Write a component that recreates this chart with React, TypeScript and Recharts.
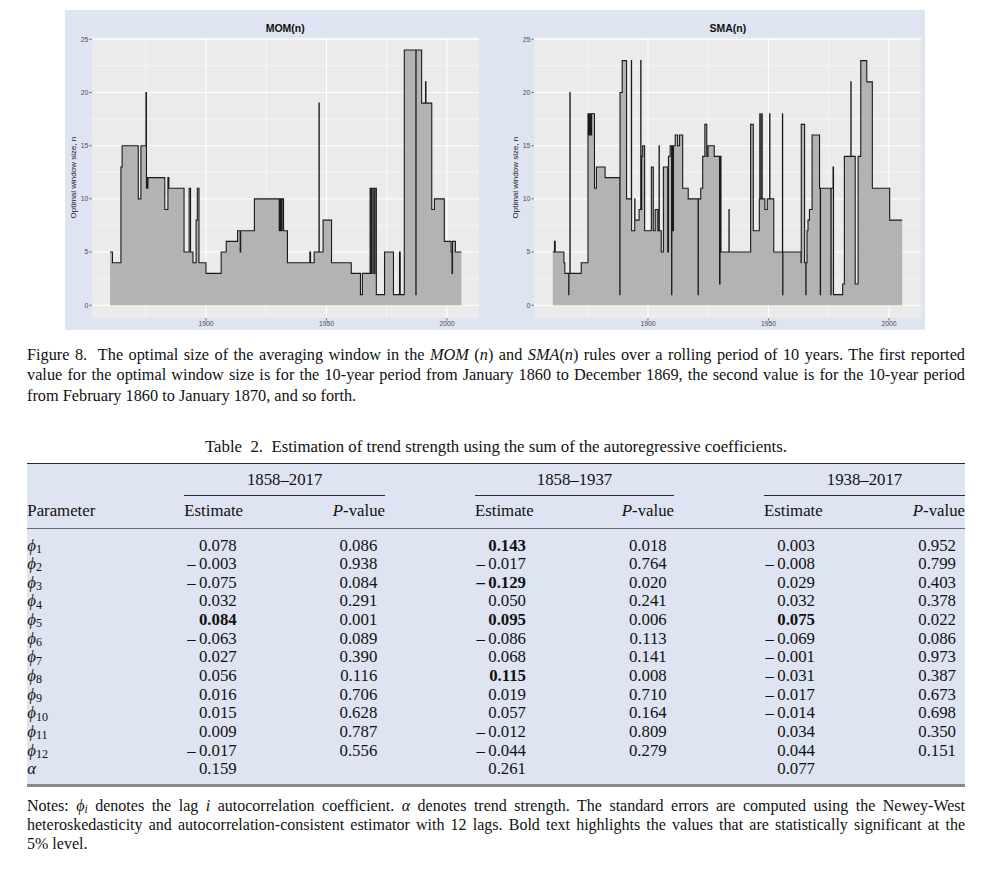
import React from 'react';
import { ComposedChart, Area, XAxis, YAxis, CartesianGrid } from 'recharts';

// ---------- chart data (year of window start, optimal window size n) ----------
const momYears = [1860.2, 1861.2, 1864.7, 1865.2, 1871.9, 1873.0, 1875.1, 1875.3, 1875.6, 1875.7, 1875.9, 1882.9, 1884.2, 1884.6, 1890.9, 1893.0, 1893.6, 1894.6, 1895.9, 1896.4, 1897.1, 1900.0, 1906.3, 1908.4, 1913.1, 1914.2, 1914.4, 1920.1, 1930.4, 1930.8, 1931.2, 1931.6, 1932.2, 1933.8, 1943.1, 1943.4, 1944.9, 1946.9, 1947.0, 1948.6, 1952.1, 1960.3, 1964.1, 1964.9, 1968.1, 1968.6, 1968.7, 1969.3, 1969.4, 1970.0, 1970.1, 1970.7, 1974.1, 1977.8, 1980.3, 1980.6, 1982.3, 1987.1, 1987.2, 1989.5, 1991.1, 1991.3, 1993.7, 1994.8, 1998.9, 2001.7, 2002.1, 2002.3, 2003.5, 2006.0];
const momValues = [5, 4, 13, 15, 10, 15, 20, 11, 12, 11, 12, 9, 12, 11, 5, 11, 5, 4, 8, 11, 4, 3, 5, 6, 7, 5, 7, 10, 7, 10, 7, 10, 7, 4, 5, 4, 5, 19, 5, 8, 4, 3, 1, 3, 11, 3, 11, 3, 11, 3, 11, 1, 5, 1, 5, 1, 24, 1, 24, 19, 21, 19, 9, 10, 6, 5, 3, 6, 5, 5];

const smaYears = [1860.5, 1861.2, 1861.5, 1865.1, 1865.5, 1867.1, 1867.2, 1867.6, 1867.7, 1872.3, 1875.1, 1875.4, 1875.6, 1875.9, 1876.1, 1876.4, 1876.6, 1877.8, 1878.6, 1882.2, 1888.3, 1888.4, 1889.3, 1891.1, 1893.1, 1893.2, 1894.5, 1894.6, 1896.3, 1897.0, 1897.1, 1897.4, 1897.8, 1898.6, 1901.4, 1902.2, 1903.0, 1904.1, 1904.6, 1904.7, 1905.5, 1906.4, 1908.2, 1908.5, 1909.2, 1909.8, 1909.9, 1910.2, 1910.6, 1911.3, 1912.3, 1913.1, 1914.4, 1916.7, 1920.8, 1920.9, 1921.9, 1922.7, 1923.6, 1924.4, 1924.9, 1927.5, 1929.7, 1929.9, 1930.3, 1933.6, 1933.7, 1942.6, 1943.7, 1946.2, 1946.4, 1946.6, 1947.2, 1947.4, 1948.5, 1949.5, 1950.5, 1950.6, 1952.2, 1955.8, 1955.9, 1956.0, 1963.5, 1963.6, 1965.0, 1965.5, 1965.6, 1966.0, 1966.4, 1967.0, 1968.1, 1971.2, 1971.5, 1971.6, 1975.9, 1976.0, 1976.8, 1977.0, 1980.8, 1981.5, 1984.2, 1984.3, 1986.0, 1987.2, 1988.3, 1990.8, 1993.1, 2000.3, 2005.5];
const smaValues = [5, 6, 5, 4, 3, 1, 3, 20, 3, 4, 18, 16, 18, 16, 18, 16, 18, 11, 13, 12, 1, 20, 23, 10, 23, 7, 10, 8, 9, 23, 9, 14, 15, 7, 13, 7, 9, 7, 15, 7, 5, 13, 5, 14, 15, 1, 15, 7, 15, 16, 15, 16, 11, 10, 1, 10, 11, 14, 17, 14, 15, 14, 2, 14, 5, 9, 5, 17, 7, 10, 18, 10, 18, 10, 9, 10, 18, 10, 5, 18, 1, 5, 4, 17, 4, 1, 4, 7, 8, 9, 16, 11, 1, 11, 1, 11, 13, 1, 2, 14, 21, 14, 2, 14, 23, 21, 11, 8, 8];

const chartTitles = ['MOM(n)', 'SMA(n)'];
const yAxisTitle = 'Optimal window size, n';
const xTicks = [1900, 1950, 2000];
const xMinor = [1875, 1925, 1975];
const yTicks = [0, 5, 10, 15, 20, 25];
const yMinor = [2.5, 7.5, 12.5, 17.5, 22.5];
const xDomain = [1852.7, 2013.3];
const yDomain = [-1.2, 25.2];

// ---------- table data ----------
const paramSubs = ['1', '2', '3', '4', '5', '6', '7', '8', '9', '10', '11', '12', 'alpha'];
const periods = ['1858–2017', '1858–1937', '1938–2017'];
const est1858_2017 = [0.078, -0.003, -0.075, 0.032, 0.084, -0.063, 0.027, 0.056, 0.016, 0.015, 0.009, -0.017, 0.159];
const pval1858_2017 = [0.086, 0.938, 0.084, 0.291, 0.001, 0.089, 0.39, 0.116, 0.706, 0.628, 0.787, 0.556, null];
const sig1858_2017 = [false, false, false, false, true, false, false, false, false, false, false, false, false];
const est1858_1937 = [0.143, -0.017, -0.129, 0.05, 0.095, -0.086, 0.068, 0.115, 0.019, 0.057, -0.012, -0.044, 0.261];
const pval1858_1937 = [0.018, 0.764, 0.02, 0.241, 0.006, 0.113, 0.141, 0.008, 0.71, 0.164, 0.809, 0.279, null];
const sig1858_1937 = [true, false, true, false, true, false, false, true, false, false, false, false, false];
const est1938_2017 = [0.003, -0.008, 0.029, 0.032, 0.075, -0.069, -0.001, -0.031, -0.017, -0.014, 0.034, 0.044, 0.077];
const pval1938_2017 = [0.952, 0.799, 0.403, 0.378, 0.022, 0.086, 0.973, 0.387, 0.673, 0.698, 0.35, 0.151, null];
const sig1938_2017 = [false, false, false, false, true, false, false, false, false, false, false, false, false];

const BLUE = '#dee4f2';
const SERIF = '"Liberation Serif", "Times New Roman", serif';
const SANS = '"Liberation Sans", Arial, sans-serif';

const toRows = (xs: number[], vs: number[]) => xs.map((x, i) => ({ year: x, n: vs[i] }));

function StepPanel({ xs, vs, title, left }: { xs: number[]; vs: number[]; title: string; left: number }) {
  const data = toRows(xs, vs);
  return (
    <div style={{ position: 'absolute', left, top: 10, width: 420, height: 320 }}>
      <div style={{ position: 'absolute', left: 27, width: 387, top: 13, textAlign: 'center', fontFamily: SANS, fontWeight: 700, fontSize: 10.5, lineHeight: '11px', color: '#111' }}>{title}</div>
      <ComposedChart width={420} height={320} data={data} margin={{ top: 27.2, right: 6, bottom: 0, left: 0 }}>
        <CartesianGrid fill="#ebebeb" fillOpacity={1} stroke="#ffffff" strokeWidth={1.1} horizontalValues={yTicks} verticalValues={xTicks} />
        <CartesianGrid stroke="#ffffff" strokeWidth={0.5} horizontalValues={yMinor} verticalValues={xMinor} />
        <XAxis dataKey="year" type="number" domain={xDomain} ticks={xTicks} allowDataOverflow axisLine={false}
          tickSize={2.7} tickMargin={0.5} height={12}
          tick={{ fontSize: 6.8, fill: '#4d4d4d', fontFamily: SANS }} tickLine={{ stroke: '#333', strokeWidth: 0.6 }} />
        <YAxis type="number" domain={yDomain} ticks={yTicks} allowDataOverflow axisLine={false} width={27}
          tickSize={2.7} tickMargin={1}
          tick={{ fontSize: 6.8, fill: '#4d4d4d', fontFamily: SANS }} tickLine={{ stroke: '#333', strokeWidth: 0.6 }}
          label={{ value: yAxisTitle, angle: -90, position: 'insideLeft', offset: 8, style: { textAnchor: 'middle', fontSize: 8, fill: '#1a1a1a', fontFamily: SANS } }} />
        <Area type="stepAfter" dataKey="n" baseValue={0} stroke="#1a1a1a" strokeWidth={1.1} fill="#b3b3b6" fillOpacity={1}
          isAnimationActive={false} dot={false} activeDot={false} />
      </ComposedChart>
    </div>
  );
}

const fmt = (v: number) => (v < 0 ? '\u2013\u2009' + Math.abs(v).toFixed(3) : v.toFixed(3));

function Cell({ right, cy, text, bold }: { right: number; cy: number; text: string; bold?: boolean }) {
  return (
    <div style={{ position: 'absolute', left: right - 120, width: 120, top: cy - 10, height: 20, lineHeight: '20px', textAlign: 'right', fontWeight: bold ? 700 : 400, whiteSpace: 'nowrap' }}>{text}</div>
  );
}

const TS = 16.8;

export default function App() {
  const estCols = [est1858_2017, est1858_1937, est1938_2017];
  const pCols = [pval1858_2017, pval1858_1937, pval1938_2017];
  const sigCols = [sig1858_2017, sig1858_1937, sig1938_2017];
  const estRight = [236.7, 526, 815];
  const pRight = [377.3, 666.7, 956];
  const groupLeft = [184.3, 475, 764];
  const groupRight = [385, 674, 965];
  const rowY = (i: number) => 545.5 + i * 18.65;
  const lineStyle = (last: boolean, h: number): React.CSSProperties => ({ whiteSpace: 'nowrap', height: h, textAlign: last ? 'left' : 'justify', textAlignLast: last ? 'left' : 'justify' } as React.CSSProperties);

  return (
    <div style={{ position: 'absolute', left: 0, top: 0, width: 996, height: 870, background: '#fff', fontFamily: SERIF, color: '#111', overflow: 'hidden' }}>
      {/* chart background */}
      <div style={{ position: 'absolute', left: 65, top: 10, width: 860, height: 320, background: BLUE }} />
      <StepPanel xs={momYears} vs={momValues} title={chartTitles[0]} left={64.7} />
      <StepPanel xs={smaYears} vs={smaValues} title={chartTitles[1]} left={507.3} />

      {/* figure caption */}
      <div style={{ position: 'absolute', left: 27, top: 344.7, width: 938, fontSize: 16.3, lineHeight: '20.5px' }}>
        <div style={lineStyle(false, 20.5)}>Figure 8.&nbsp; The optimal size of the averaging window in the <i>MOM</i> (<i>n</i>) and <i>SMA</i>(<i>n</i>) rules over a rolling period of 10 years. The first reported</div>
        <div style={lineStyle(false, 20.5)}>value for the optimal window size is for the 10-year period from January 1860 to December 1869, the second value is for the 10-year period</div>
        <div style={lineStyle(true, 20.5)}>from February 1860 to January 1870, and so forth.</div>
      </div>

      {/* table title */}
      <div style={{ position: 'absolute', left: 0, width: 992, top: 437, textAlign: 'center', fontSize: TS, lineHeight: '20px', whiteSpace: 'nowrap' }}>
        Table&nbsp; 2.&nbsp; Estimation of trend strength using the sum of the autoregressive coefficients.
      </div>

      {/* table body */}
      <div style={{ position: 'absolute', left: 27, top: 463, width: 938, height: 323, background: BLUE }} />
      <div style={{ position: 'absolute', left: 27, top: 462.5, width: 938, height: 1.2, background: '#2a2a2a' }} />
      <div style={{ position: 'absolute', left: 27, top: 527.7, width: 938, height: 1.2, background: '#6a6a6a' }} />
      <div style={{ position: 'absolute', left: 27, top: 784.3, width: 938, height: 2.6, background: '#8a8a8a' }} />
      <div style={{ fontSize: TS }}>
        {periods.map((p, g) => (
          <React.Fragment key={p}>
            <div style={{ position: 'absolute', left: groupLeft[g], width: groupRight[g] - groupLeft[g], top: 470, lineHeight: '20px', textAlign: 'center' }}>{p}</div>
            <div style={{ position: 'absolute', left: groupLeft[g], width: groupRight[g] - groupLeft[g], top: 494.5, height: 1.1, background: '#2a2a2a' }} />
            <div style={{ position: 'absolute', left: groupLeft[g], top: 501, lineHeight: '20px' }}>Estimate</div>
            <div style={{ position: 'absolute', left: groupRight[g] - 120, width: 120, top: 501, lineHeight: '20px', textAlign: 'right' }}><i>P</i>-value</div>
          </React.Fragment>
        ))}
        <div style={{ position: 'absolute', left: 27.3, top: 501, lineHeight: '20px' }}>Parameter</div>
        {paramSubs.map((sub, i) => (
          <React.Fragment key={sub}>
            <div style={{ position: 'absolute', left: 27.3, top: rowY(i) - 10, height: 20, lineHeight: '20px', whiteSpace: 'nowrap' }}>
              {sub === 'alpha' ? <i>α</i> : (
                <>
                  <i>ϕ</i>
                  <span style={{ fontSize: '0.72em', position: 'relative', top: '0.18em' }}>{sub}</span>
                </>
              )}
            </div>
            {estCols.map((col, g) => (
              <Cell key={'e' + g} right={estRight[g]} cy={rowY(i)} text={fmt(col[i])} bold={sigCols[g][i]} />
            ))}
            {pCols.map((col, g) => (col[i] === null ? null : (
              <Cell key={'p' + g} right={pRight[g]} cy={rowY(i)} text={(col[i] as number).toFixed(3)} />
            )))}
          </React.Fragment>
        ))}
      </div>

      {/* notes */}
      <div style={{ position: 'absolute', left: 27, top: 795.5, width: 938, fontSize: 16, lineHeight: '19px' }}>
        <div style={lineStyle(false, 19)}>Notes: <i>ϕ</i><span style={{ fontSize: '0.72em', position: 'relative', top: '0.2em' }}><i>i</i></span> denotes the lag <i>i</i> autocorrelation coefficient. <i>α</i> denotes trend strength. The standard errors are computed using the Newey-West</div>
        <div style={lineStyle(false, 19)}>heteroskedasticity and autocorrelation-consistent estimator with 12 lags. Bold text highlights the values that are statistically significant at the</div>
        <div style={lineStyle(true, 19)}>5% level.</div>
      </div>
    </div>
  );
}
